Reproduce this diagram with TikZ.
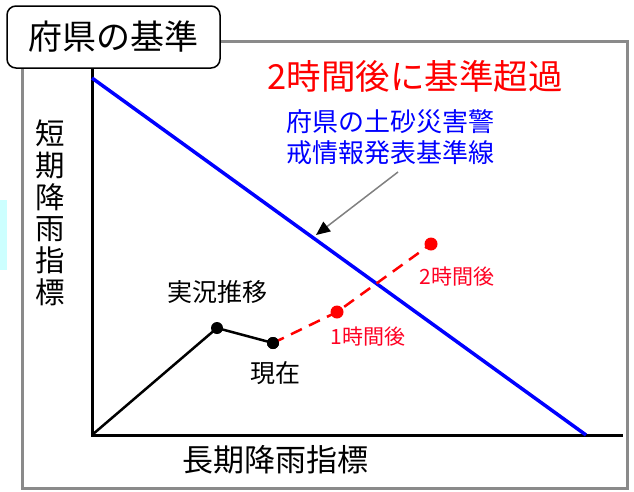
\documentclass[tikz,border=0pt]{standalone}
\usepackage{fontspec}
\setmainfont{Noto Sans CJK JP}
\usetikzlibrary{arrows.meta}
\definecolor{framegray}{HTML}{8A8A8A}
\definecolor{stripcyan}{HTML}{CCFFFF}
\definecolor{lblred}{HTML}{FF0022}
\tikzset{
  frameline/.style={draw=framegray, line width=3pt},
  axisline/.style={draw=black, line width=3pt},
  critline/.style={draw=blue, line width=3.5pt},
  histline/.style={draw=black, line width=2.5pt},
  predline/.style={draw=red, line width=2.5pt, dash pattern=on 12pt off 8pt},
  blackdot/.style={circle, fill=black, inner sep=0pt, minimum size=12pt},
  reddot/.style={circle, fill=red, inner sep=0pt, minimum size=13pt},
  pointer/.style={draw=gray, line width=1.5pt, -{Triangle[length=14pt, width=12pt, color=black, fill=black]}},
  titlebox/.style={draw=black, line width=1.5pt, fill=white, rounded corners=9pt, minimum width=213pt, minimum height=62pt, inner sep=0pt},
  txt/.style={inner sep=0pt, anchor=center}
}
\begin{document}
\begin{tikzpicture}[x=1pt, y=-1pt]
\useasboundingbox (0,0) rectangle (634,491);
% stray cyan strip at the left edge
\fill[stripcyan] (0,200) rectangle (7,270);
% outer frame
\draw[frameline] (22,41) rectangle (627,488);
% axes
\coordinate (O) at (92,435);
\coordinate (ytop) at (92,60);
\coordinate (xend) at (623,435);
\draw[axisline] (ytop) -- (O) -- (xend);
% title box
\node[titlebox] (title) at (113.5,37) {};
\node[txt, font=\fontsize{34}{40}\selectfont] (titletext) at (title.center) {府県の基準};
% criterion line
\coordinate (c1) at (92,78);
\coordinate (c2) at (586,435);
\draw[critline] (c1) -- (c2);
% history
\node[blackdot] (p1) at (217,328) {};
\node[blackdot] (p2) at (273,343) {};
\draw[histline] (O) -- (p1.center) -- (p2.center);
% prediction
\node[reddot] (r1) at (337,312) {};
\node[reddot] (r2) at (431,244) {};
\draw[predline] (p2.center) -- (r1.center) -- (r2.center);
\node[blackdot] at (p2) {};
% pointer arrow
\coordinate (ptail) at (398,172);
\coordinate (phead) at (316,235);
\draw[pointer] (ptail) -- (phead);
% texts
\node[txt, text=red, font=\fontsize{34.5}{40}\selectfont] (over) at (415,76) {2時間後に基準超過};
\node[txt, text=blue, font=\fontsize{26}{31}\selectfont, align=left] (crit) at (390,137) {府県の土砂災害警\\戒情報発表基準線};
\node[txt, font=\fontsize{29.5}{31.7}\selectfont, align=center] (ylab) at (50,213) {短\\期\\降\\雨\\指\\標};
\node[txt, font=\fontsize{31}{34}\selectfont] (xlab) at (275,460) {長期降雨指標};
\node[txt, font=\fontsize{25}{30}\selectfont] (hist) at (217,292) {実況推移};
\node[txt, font=\fontsize{25}{30}\selectfont] (now) at (275,373) {現在};
\node[txt, text=lblred, font=\fontsize{21}{25}\selectfont] (h1) at (368,337) {1時間後};
\node[txt, text=lblred, font=\fontsize{21}{25}\selectfont] (h2) at (457,277) {2時間後};
\end{tikzpicture}
\end{document}
